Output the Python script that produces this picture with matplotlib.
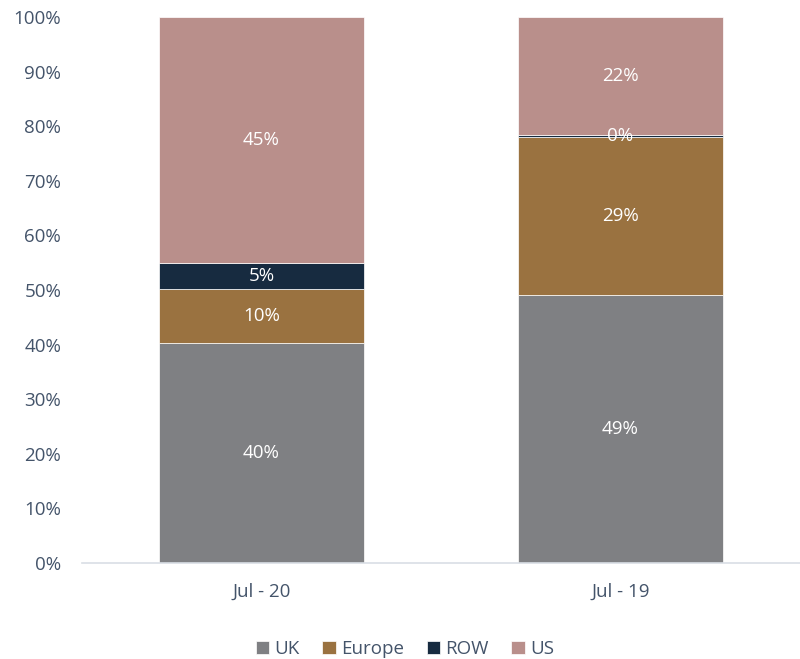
import matplotlib
matplotlib.use("Agg")
import matplotlib.pyplot as plt
from matplotlib.ticker import PercentFormatter

plt.rcParams['font.family'] = ['Open Sans', 'DejaVu Sans']

periodos = ["Jul - 20", "Jul - 19"]
series = ["UK", "Europe", "ROW", "US"]
uk = [40.3, 49.1]
europe = [9.8, 28.9]
row = [4.8, 0.4]
us = [45.1, 21.6]
rotulos = [["40%", "49%"], ["10%", "29%"], ["5%", "0%"], ["45%", "22%"]]
cores = ["#7F8083", "#9A7240", "#172B40", "#B98F8B"]
cor_texto = "#44546A"

fig = plt.figure(figsize=(8, 6.59), dpi=100)
ax = fig.add_axes([0.1025, 0.1457, 0.8975, 0.8285])

x = range(len(periodos))
base = [0, 0]
for nome, vals, cor, txt in zip(series, [uk, europe, row, us], cores, rotulos):
    barras = ax.bar(x, vals, bottom=base, width=0.57, color=cor, label=nome,
                    edgecolor="white", linewidth=0.5)
    for i, b in enumerate(barras):
        yc = base[i] + vals[i] / 2
        ax.text(b.get_x() + b.get_width() / 2, yc, txt[i], ha="center", va="center",
                color="white", fontsize=13.5)
    base = [base[i] + vals[i] for i in range(len(vals))]

ax.set_xlim(-0.5, 1.5)
ax.set_ylim(0, 100)
ax.set_yticks(range(0, 101, 10))
ax.yaxis.set_major_formatter(PercentFormatter(decimals=0))
ax.set_xticks(list(x))
ax.set_xticklabels(periodos)
ax.tick_params(length=0, labelsize=13.5, colors=cor_texto)
ax.tick_params(axis="y", pad=15)
ax.tick_params(axis="x", pad=14)
for s in ["top", "right", "left"]:
    ax.spines[s].set_visible(False)
ax.spines["bottom"].set_color("#D9DEE5")
ax.spines["bottom"].set_linewidth(1.2)

leg = ax.legend(loc="upper center", bbox_to_anchor=(0.45, -0.11), ncol=4, frameon=False,
                fontsize=13.5, handlelength=0.7, handleheight=0.7, handletextpad=0.3,
                columnspacing=1.2)
for t in leg.get_texts():
    t.set_color(cor_texto)

fig.savefig("out.png", dpi=100)
